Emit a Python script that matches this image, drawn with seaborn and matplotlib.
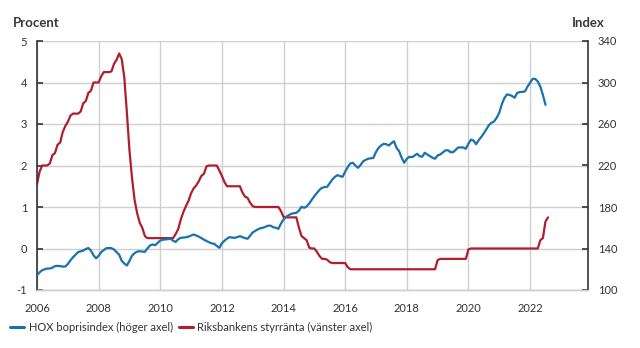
import numpy as np
import pandas as pd
import matplotlib
matplotlib.use("Agg")
import matplotlib.pyplot as plt
import seaborn as sns

# Riksbankens styrränta (procent), monthly Jan 2006 - Aug 2022
repo_rate = [
    1.55, 1.85, 2.0, 2.0, 2.0, 2.05, 2.25, 2.3, 2.5, 2.55, 2.8, 2.95,      # 2006
    3.05, 3.2, 3.25, 3.25, 3.25, 3.3, 3.5, 3.55, 3.75, 3.8, 4.0, 4.0,      # 2007
    4.0, 4.15, 4.25, 4.25, 4.25, 4.27, 4.45, 4.55, 4.7, 4.56, 4.12, 3.27,  # 2008
    2.37, 1.70, 1.17, 0.85, 0.62, 0.50, 0.30, 0.25, 0.25, 0.25, 0.25, 0.25,  # 2009
    0.25, 0.25, 0.25, 0.25, 0.25, 0.25, 0.35, 0.47, 0.7, 0.88, 1.02, 1.15,   # 2010
    1.33, 1.45, 1.52, 1.62, 1.75, 1.8, 1.98, 2.0, 2.0, 2.0, 2.0, 1.88,       # 2011
    1.75, 1.6, 1.5, 1.5, 1.5, 1.5, 1.5, 1.5, 1.35, 1.25, 1.22, 1.1,          # 2012
    1.02, 1.0, 1.0, 1.0, 1.0, 1.0, 1.0, 1.0, 1.0, 1.0, 1.0, 0.9,             # 2013
    0.76, 0.75, 0.75, 0.75, 0.75, 0.75, 0.5, 0.3, 0.25, 0.2, 0.02, 0.0,      # 2014
    0.0, -0.08, -0.18, -0.25, -0.25, -0.27, -0.33, -0.35, -0.35, -0.35, -0.35, -0.35,  # 2015
    -0.35, -0.45, -0.5, -0.5, -0.5, -0.5, -0.5, -0.5, -0.5, -0.5, -0.5, -0.5,  # 2016
    -0.5, -0.5, -0.5, -0.5, -0.5, -0.5, -0.5, -0.5, -0.5, -0.5, -0.5, -0.5,    # 2017
    -0.5, -0.5, -0.5, -0.5, -0.5, -0.5, -0.5, -0.5, -0.5, -0.5, -0.5, -0.5,    # 2018
    -0.28, -0.25, -0.25, -0.25, -0.25, -0.25, -0.25, -0.25, -0.25, -0.25, -0.25, -0.25,  # 2019
    -0.02, 0.0, 0.0, 0.0, 0.0, 0.0, 0.0, 0.0, 0.0, 0.0, 0.0, 0.0,          # 2020
    0.0, 0.0, 0.0, 0.0, 0.0, 0.0, 0.0, 0.0, 0.0, 0.0, 0.0, 0.0,            # 2021
    0.0, 0.0, 0.0, 0.0, 0.2, 0.25, 0.65, 0.75,                             # 2022
]

# HOX boprisindex (index), monthly Jan 2006 - Jul 2022
hox_index = [
    114.3, 117, 119, 120, 120.7, 120.7, 121.5, 123, 123.3, 123, 122.6, 122.6,     # 2006
    125, 128.5, 131.5, 134, 136.5, 137.3, 138, 139.5, 140.5, 138, 133.5, 130.5,   # 2007
    133, 136.5, 138.5, 140.3, 140.5, 140.3, 139, 136.5, 134, 128, 125.5, 123.6,   # 2008
    128, 133, 135.5, 137, 137.4, 137, 136.8, 140, 143, 143.9, 143.2, 145.5,       # 2009
    147.7, 148.5, 148.7, 149, 149.4, 147.5, 146.3, 149, 150.3, 150.5, 150.8, 151.5,  # 2010
    152.5, 153.5, 152.5, 151.5, 150, 148.5, 147.2, 146, 145, 144.5, 142.5, 140.7,    # 2011
    145, 147.5, 149.5, 151, 150.5, 150.3, 151, 151.9, 151, 150, 149.4, 152.5,        # 2012
    155.5, 157, 158.5, 159.5, 160, 161, 162, 162, 160.5, 160, 159, 164,              # 2013
    168, 170.5, 172.1, 173.5, 174, 174.4, 176.5, 180.2, 179.2, 180.5, 183.4, 187,    # 2014
    190.5, 193.5, 196.5, 198.5, 199.2, 199.5, 203, 206.5, 209, 210.7, 209.8, 209.1,  # 2015
    214, 218.5, 222, 222.6, 220, 217.8, 220.5, 224, 225.5, 226.5, 227, 227.4,        # 2016
    233, 237, 239.3, 240.9, 240.5, 239.3, 241.5, 243.4, 237, 233.8, 227.5, 222.6,    # 2017
    226.5, 228.4, 228, 229.5, 231.3, 229, 228.4, 232.3, 230.5, 229, 227.5, 226.5,    # 2018
    229.7, 230.6, 232.5, 234.5, 234.8, 232.8, 232.8, 235, 237.4, 237.4, 237.4, 236.1,  # 2019
    241, 245, 244, 240.5, 244.5, 247.5, 251, 255, 259, 261.2, 262.5, 266,            # 2020
    270.8, 279, 285, 288.5, 288, 287, 285.3, 290, 290.8, 291, 291.4, 296,            # 2021
    299.7, 303.5, 303.5, 301, 296, 288, 278.5,                                       # 2022
]

year_ticks = [2006, 2008, 2010, 2012, 2014, 2016, 2018, 2020, 2022]
left_ticks = [-1, 0, 1, 2, 3, 4, 5]
right_ticks = [100, 140, 180, 220, 260, 300, 340]

label_hox = "HOX boprisindex (höger axel)"
label_repo = "Riksbankens styrränta (vänster axel)"

df_repo = pd.DataFrame({"t": 2006 + np.arange(len(repo_rate)) / 12.0, "v": repo_rate})
df_hox = pd.DataFrame({"t": 2006 + np.arange(len(hox_index)) / 12.0, "v": hox_index})

sns.set_theme(style="white")
plt.rcParams["font.family"] = ["Lato", "DejaVu Sans"]

blue = "#1872b0"
red = "#b01e2d"
grid_c = "#cfcfcf"
text_c = "#333333"

fig = plt.figure(figsize=(6.4, 3.48), dpi=100)
ax = fig.add_axes([37 / 640, 1 - 290 / 348, (588 - 37) / 640, (290 - 41) / 348])
ax2 = ax.twinx()

sns.lineplot(data=df_repo, x="t", y="v", ax=ax, color=red, linewidth=1.6, legend=False)
sns.lineplot(data=df_hox, x="t", y="v", ax=ax2, color=blue, linewidth=1.6, legend=False)

ax.set_xlim(2006, 2023.88)
ax.set_ylim(-1, 5)
ax2.set_ylim(100, 340)
ax.set_xticks(year_ticks)
ax.set_xticklabels([str(y) for y in year_ticks])
ax.set_yticks(left_ticks)
ax.set_yticklabels([str(v) for v in left_ticks])
ax2.set_yticks(right_ticks)
ax2.set_yticklabels([str(v) for v in right_ticks])
ax.set_xlabel("")
ax.set_ylabel("")
ax2.set_xlabel("")
ax2.set_ylabel("")

ax.grid(True, color=grid_c, linewidth=1.0)
ax2.grid(False)
ax.set_axisbelow(True)

for a in (ax, ax2):
    a.spines["top"].set_visible(False)
    a.spines["bottom"].set_color(grid_c)
    a.spines["bottom"].set_linewidth(1.0)
    a.spines["left"].set_color("#333333")
    a.spines["right"].set_color("#333333")
    a.spines["left"].set_linewidth(1.2)
    a.spines["right"].set_linewidth(1.2)
ax2.spines["left"].set_visible(False)
ax.spines["right"].set_visible(False)

ax.tick_params(axis="y", direction="in", length=4, width=1.2, color="#333333",
               labelsize=8, labelcolor=text_c, pad=7, left=True)
ax2.tick_params(axis="y", direction="in", length=4, width=1.2, color="#333333",
                labelsize=8, labelcolor=text_c, pad=7, right=True)
ax.tick_params(axis="x", length=0, labelsize=8, labelcolor=text_c, pad=9)

fig.text(13 / 640, 1 - 23 / 348, "Procent", fontsize=9.5, fontweight="bold",
         color="#3a3a3a", ha="left", va="center")
fig.text(605 / 640, 1 - 23 / 348, "Index", fontsize=9.5, fontweight="bold",
         color="#3a3a3a", ha="right", va="center")

from matplotlib.lines import Line2D
handles = [Line2D([0], [0], color=blue, linewidth=2.2),
           Line2D([0], [0], color=red, linewidth=2.2)]
leg = fig.legend(handles, [label_hox, label_repo], loc="center left",
                 bbox_to_anchor=(10 / 640, 1 - 327 / 348), ncol=2, frameon=False,
                 fontsize=8, handlelength=1.3, handletextpad=0.4, columnspacing=0.5,
                 borderaxespad=0, borderpad=0)
for t in leg.get_texts():
    t.set_color(text_c)

fig.savefig("out.png", dpi=100)
